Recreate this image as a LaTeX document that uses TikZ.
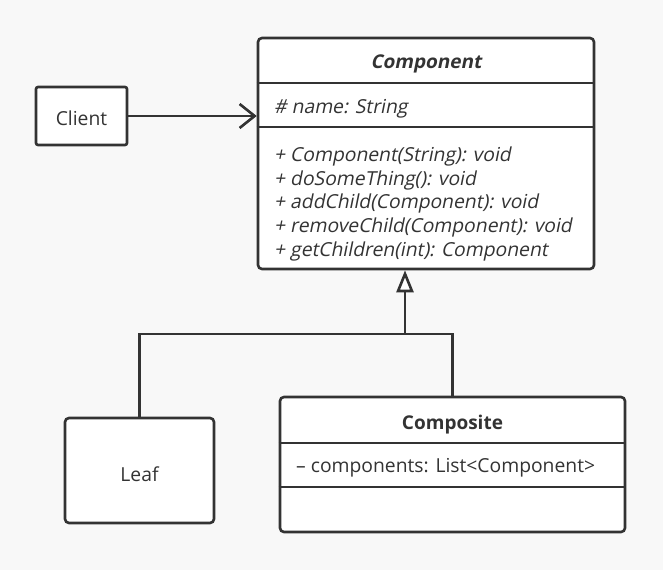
\documentclass[tikz,border=0pt]{standalone}
\usepackage{fontspec}
\setmainfont{Open Sans}
\newfontfamily\slantfont[FakeSlant=0.2, BoldFeatures={FakeSlant=0.2}]{Open Sans}
\usetikzlibrary{arrows.meta}
\definecolor{ink}{HTML}{333333}
\definecolor{bg}{HTML}{F8F8F8}
\tikzset{
  umlbox/.style={draw=ink, line width=2.6pt, fill=white, rounded corners=4pt, inner sep=0pt},
  sep/.style={draw=ink, line width=2.6pt},
  conn/.style={draw=ink, line width=2.6pt},
  txt/.style={text=ink, inner sep=0pt, font=\fontsize{19.3}{22}\selectfont},
  ltxt/.style={txt, anchor=west},
  itxt/.style={ltxt, font=\fontsize{19.3}{22}\selectfont\slantfont},
}
\begin{document}
\begin{tikzpicture}[x=1pt,y=-1pt]
\fill[bg] (0,0) rectangle (663,570);
\useasboundingbox (0,0) rectangle (663,570);
% boxes
\node[umlbox, rounded corners=2pt, minimum width=91pt, minimum height=58pt] (client) at (81.5,116) {};
\node[umlbox, minimum width=336pt, minimum height=231pt] (comp) at (426,153.5) {};
\node[umlbox, minimum width=149pt, minimum height=105pt] (leaf) at (139.5,470.5) {};
\node[umlbox, minimum width=345pt, minimum height=135pt] (composite) at (452.5,464.5) {};
% dividers
\draw[sep] (comp.west |- 0,83) -- (comp.east |- 0,83);
\draw[sep] (comp.west |- 0,127) -- (comp.east |- 0,127);
\draw[sep] (composite.west |- 0,443) -- (composite.east |- 0,443);
\draw[sep] (composite.west |- 0,487) -- (composite.east |- 0,487);
% texts
\node[txt] (clientt) at (81.5,118.5) {Client};
\node[txt] (leaft) at (139.5,474) {Leaf};
\node[txt, font=\fontsize{19}{22}\selectfont\slantfont\bfseries] (compt) at (426,63.5) {Component};
\node[itxt] (attr) at (274,108.5) {\# name: String};
\node[itxt] (m1) at (274,156.5) {+ Component(String): void};
\node[itxt] (m2) at (274,180) {+ doSomeThing(): void};
\node[itxt] (m3) at (274,203.5) {+ addChild(Component): void};
\node[itxt] (m4) at (274,227.5) {+ removeChild(Component): void};
\node[itxt] (m5) at (274,251.5) {+ getChildren(int): Component};
\node[txt, font=\fontsize{19}{22}\selectfont\bfseries] (compot) at (452.5,424.5) {Composite};
\node[ltxt] (cattr) at (296,467.5) {– components: List<Component>};
% connectors
\draw[conn, -{Straight Barb[length=15pt,width=24pt]}] (client.east) -- (client.east -| comp.west);
\coordinate (j) at (405,334);
\draw[conn] (leaf.north) |- (j);
\draw[conn] (composite.north) |- (j);
\draw[conn, -{Triangle[open,length=22pt,width=17pt,fill=white]}] (j) -- (j |- comp.south);
\end{tikzpicture}
\end{document}
